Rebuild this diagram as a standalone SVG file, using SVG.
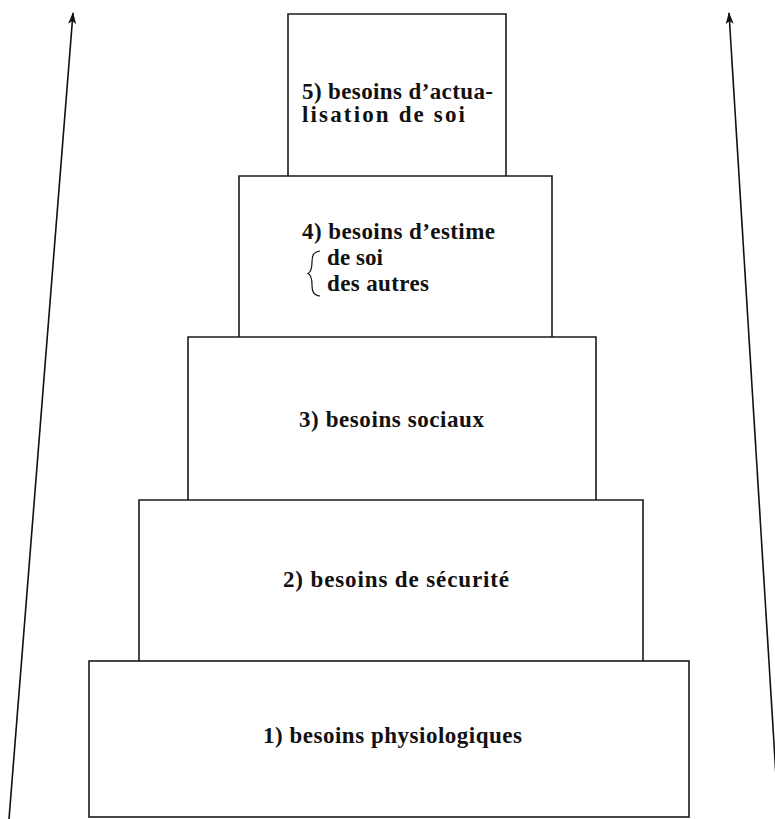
<svg xmlns="http://www.w3.org/2000/svg" width="775" height="819" viewBox="0 0 775 819">
<defs>
<marker id="ah" markerWidth="12" markerHeight="10" refX="11" refY="5" orient="auto" markerUnits="userSpaceOnUse" viewBox="0 0 12 10">
<path d="M12,5 L0,1 L3,5 L0,9 Z" fill="#111"/>
</marker>
<style>
.box{fill:none;stroke:#1a1a1a;stroke-width:1.6}
.t{font-family:"Liberation Serif","Times New Roman",serif;font-weight:bold;font-size:23px;fill:#111}
.ar{stroke:#111;stroke-width:1.6;fill:none}
</style>
</defs>
<rect width="775" height="819" fill="#fff"/>
<g id="connectors">
<line class="ar" x1="9" y1="819" x2="73" y2="13" marker-end="url(#ah)"/>
<line class="ar" x1="776" y1="776" x2="729" y2="13" marker-end="url(#ah)"/>
</g>
<g id="n1">
<rect class="box" x="89" y="661" width="600" height="156"/>
<text class="t" x="263" y="743" textLength="259" lengthAdjust="spacing">1)  besoins  physiologiques</text>
</g>
<g id="n2">
<path class="box" d="M139,661 V500 H643 V661"/>
<text class="t" x="283" y="587" textLength="226" lengthAdjust="spacing">2)  besoins  de  sécurité</text>
</g>
<g id="n3">
<path class="box" d="M188,500 V337 H596 V500"/>
<text class="t" x="299" y="427" textLength="185" lengthAdjust="spacing">3)  besoins  sociaux</text>
</g>
<g id="n4">
<path class="box" d="M239,337 V176 H552 V337"/>
<text class="t" x="302" y="239" textLength="193" lengthAdjust="spacing">4)  besoins  d’estime</text>
<path d="M320,251 C313,252 312,256 312,262 C312,269 311,272 308,273.5 C311,275 312,278 312,285 C312,291 313,295 320,296" fill="none" stroke="#111" stroke-width="1.2"/>
<text class="t" x="327" y="265" textLength="56" lengthAdjust="spacing">de  soi</text>
<text class="t" x="327" y="291" textLength="102" lengthAdjust="spacing">des  autres</text>
</g>
<g id="n5">
<path class="box" d="M288,176 V14 H506 V176"/>
<text class="t" x="302" y="99" textLength="191" lengthAdjust="spacing">5)  besoins  d’actua-</text>
<text class="t" x="302" y="122" textLength="163" lengthAdjust="spacing">lisation   de   soi</text>
</g>
</svg>
